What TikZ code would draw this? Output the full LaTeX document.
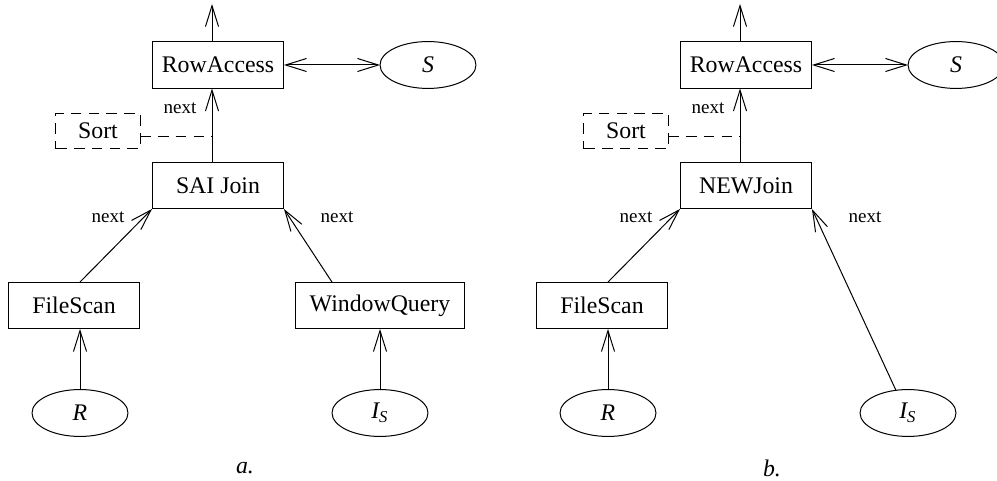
\documentclass[tikz,border=0pt]{standalone}
\usepackage{fontspec}
\setmainfont{Liberation Serif}
\usetikzlibrary{arrows.meta,shapes.geometric,calc}

\begin{document}
\begin{tikzpicture}[x=0.42pt, y=-0.42pt, line width=0.42pt,
    >={Straight Barb[length=8.8pt,width=5.5pt]},
    op/.style={rectangle, draw, inner sep=0pt, outer sep=0pt, minimum width=55.4pt, minimum height=19.7pt},
    rel/.style={ellipse, draw, inner sep=0pt, outer sep=0pt, minimum width=40.3pt, minimum height=19.7pt},
    opt/.style={rectangle, draw, dash pattern=on 4.5pt off 3pt, inner sep=0pt, outer sep=0pt, minimum width=35.3pt, minimum height=15.1pt},
    lbl/.style={font=\footnotesize}]
    \useasboundingbox (0,0) rectangle (997,481);

    % plan a.
    \draw
    (218, 65) node[op](RA){RowAccess}
    (428, 65) node[rel](S){\textit{S}}
    (98, 131) node[opt](Sort){Sort}
    (218, 185.5) node[op](SJ){SAI Join}
    (74, 305.5) node[op](FS){FileScan}
    (380, 305.5) node[op, minimum width=70.6pt](WQ){WindowQuery}
    (80, 413) node[rel](R){\textit{R}}
    (380, 413) node[rel](IS){\textit{I\textsubscript{S}}};
    \coordinate (topa) at (212, 4);
    \coordinate (sorta) at (212, 137);
    \node[lbl] (nxa) at (180, 108) {next};
    \node[lbl] (nxal) at (108, 217) {next};
    \node[lbl] (nxar) at (337, 217) {next};
    \node (capa) at (245, 468) {\textit{a.}};

    \draw[->] (RA.north -| topa) -- (topa);
    \draw[<->] (RA) -- (S);
    \draw[->] (SJ.north -| topa) -- (RA.south -| topa);
    \draw[dash pattern=on 4.5pt off 3pt] (Sort.east |- sorta) -- (sorta);
    \draw[->] (FS.north -| R) -- (SJ.south west);
    \draw[->] ($(WQ.north west)+(36,0)$) -- (SJ.south east);
    \draw[->] (R) -- (R |- FS.south);
    \draw[->] (IS) -- (WQ);

    % plan b.
    \draw
    (746, 65) node[op](RA2){RowAccess}
    (956, 65) node[rel](S2){\textit{S}}
    (626, 131) node[opt](Sort2){Sort}
    (746, 185.5) node[op](NJ){NEWJoin}
    (602, 305.5) node[op](FS2){FileScan}
    (608, 413) node[rel](R2){\textit{R}}
    (908, 413) node[rel](IS2){\textit{I\textsubscript{S}}};
    \coordinate (topb) at (740, 4);
    \coordinate (sortb) at (740, 137);
    \node[lbl] (nxb) at (708, 108) {next};
    \node[lbl] (nxbl) at (636, 217) {next};
    \node[lbl] (nxbr) at (865, 217) {next};
    \node (capb) at (772, 468) {\textit{b.}};

    \draw[->] (RA2.north -| topb) -- (topb);
    \draw[<->] (RA2) -- (S2);
    \draw[->] (NJ.north -| topb) -- (RA2.south -| topb);
    \draw[dash pattern=on 4.5pt off 3pt] (Sort2.east |- sortb) -- (sortb);
    \draw[->] (FS2.north -| R2) -- (NJ.south west);
    \draw[->] (IS2.118) -- (NJ.south east);
    \draw[->] (R2) -- (R2 |- FS2.south);

\end{tikzpicture}
\end{document}
